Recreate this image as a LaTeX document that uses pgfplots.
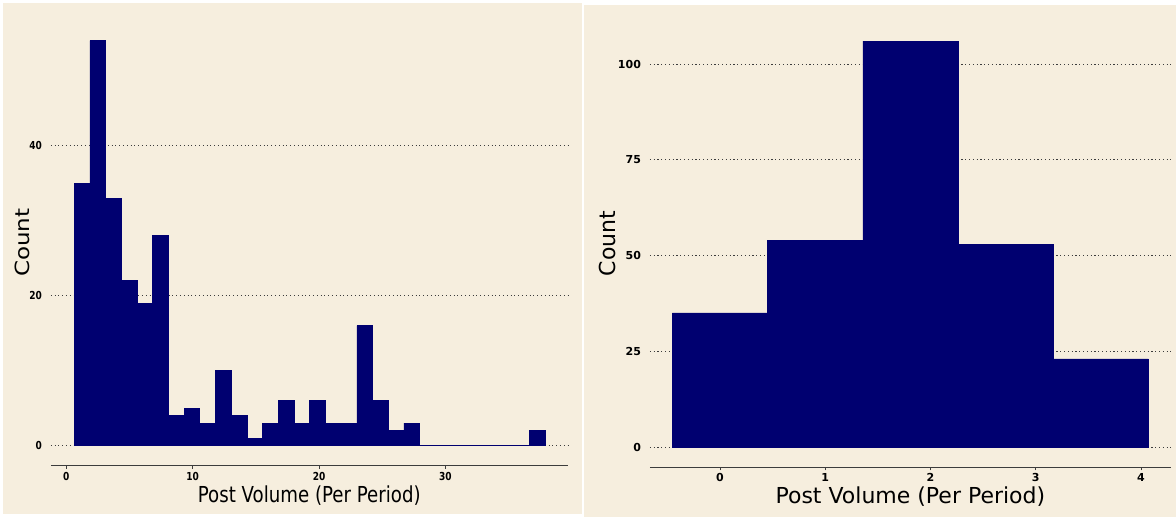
\documentclass[border=0pt]{standalone}
\usepackage{pgfplots}
\pgfplotsset{compat=1.18}
\usepackage{graphicx}
\usepackage{fontspec}
\setmainfont{DejaVu Sans}
\definecolor{bg}{RGB}{246,238,222}
\definecolor{barc}{RGB}{0,0,112}
\definecolor{axc}{RGB}{60,60,60}

\pgfplotsset{
  panel/.style={
    scale only axis,
    axis x line*=bottom,
    axis y line*=left,
    x axis line style={-, draw=axc, line width=1.3pt},
    y axis line style={draw=none},
    ytick style={draw=none},
    xtick style={draw=axc, line width=1pt},
    tick align=outside,
    major tick length=3pt,
    ymajorgrids,
    major grid style={draw=axc, line width=1pt, dash pattern=on 1.1pt off 2.7pt},
    /pgf/number format/assume math mode=true,
    tick label style={font=\fontsize{11}{13}\selectfont\bfseries, inner sep=0pt},
    xticklabel style={yshift=-3pt},
    yticklabel style={xshift=-5.7pt},
  }
}

\begin{document}
\begin{tikzpicture}[x=1pt,y=1pt]
\fill[white] (0,0) rectangle (1176,517);
\fill[bg] (3,3) rectangle (582,514);
\fill[bg] (584,0) rectangle (1176,512);

\begin{axis}[panel,
  at={(50.75pt,51.3pt)}, anchor=south west,
  width=517pt, height=445.7pt,
  xmin=-1.22, xmax=39.67, ymin=-2.667, ymax=56.76,
  xtick={0,10,20,30},
  xticklabels={\scalebox{.82}[1]{0},\scalebox{.82}[1]{10},\scalebox{.82}[1]{20},\scalebox{.82}[1]{30}},
  ytick={0,20,40},
  yticklabels={\scalebox{.82}[1]{0},\scalebox{.82}[1]{20},\scalebox{.82}[1]{40}},
  xlabel={\scalebox{.826}[1]{Post Volume (Per Period)}},
  ylabel={\scalebox{1}[.85]{Count}},
  every axis x label/.style={at={(axis description cs:0.5,0)}, anchor=center, yshift=-30.3pt, font=\fontsize{22}{26}\selectfont},
  every axis y label/.style={at={(axis description cs:0,0.5)}, anchor=center, xshift=-28.2pt, rotate=90, font=\fontsize{23}{27}\selectfont},
]
\addplot[ybar interval, fill=barc, draw=barc, line width=0.5pt] table {
x y
0.624 35
1.866 54
3.108 33
4.350 22
5.592 19
6.835 28
8.077 4
9.319 5
10.561 3
11.803 10
13.045 4
14.287 1
15.529 3
16.771 6
18.013 3
19.256 6
20.498 3
21.740 3
22.982 16
24.224 6
25.466 2
26.708 3
27.950 0
29.192 0
30.434 0
31.677 0
32.919 0
34.161 0
35.403 0
36.645 2
37.887 0
};
\end{axis}

\begin{axis}[panel,
  at={(649.8pt,49.7pt)}, anchor=south west,
  width=521.2pt, height=447.3pt,
  xmin=-0.667, xmax=4.285, ymin=-5.30, ymax=111.49,
  xtick={0,1,2,3,4},
  ytick={0,25,50,75,100},
  xlabel={Post Volume (Per Period)},
  ylabel={Count},
  every axis x label/.style={at={(axis description cs:0.5,0)}, anchor=center, yshift=-29.2pt, font=\fontsize{22}{26}\selectfont},
  every axis y label/.style={at={(axis description cs:0,0.5)}, anchor=center, xshift=-42.2pt, rotate=90, font=\fontsize{22}{26}\selectfont},
]
\addplot[ybar interval, fill=barc, draw=barc, line width=0.5pt] table {
x y
-0.452 35
0.453 54
1.357 106
2.262 53
3.166 23
4.071 0
};
\end{axis}
\end{tikzpicture}
\end{document}
